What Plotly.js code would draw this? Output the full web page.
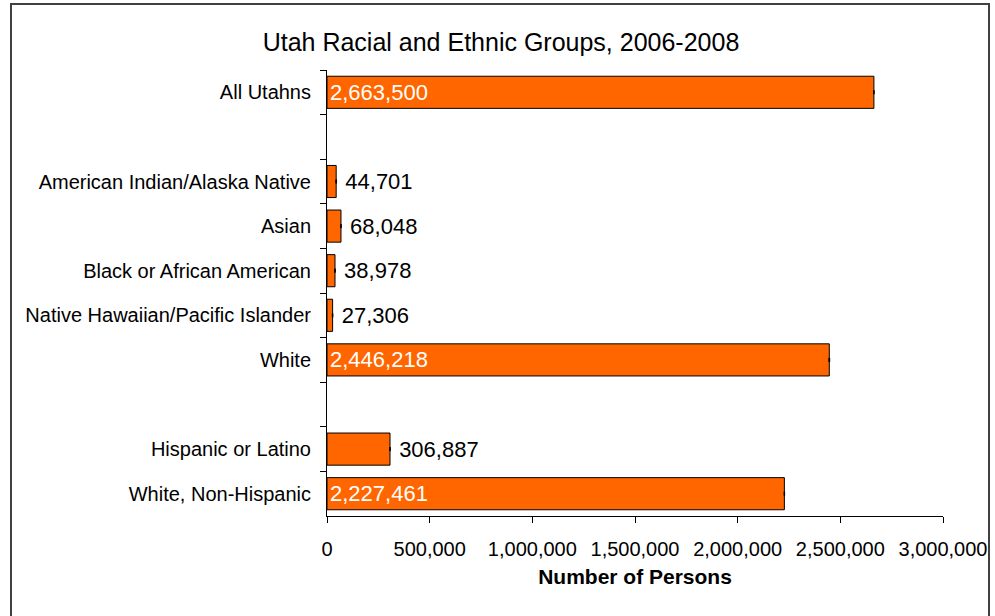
<!DOCTYPE html>
<html>
<head>
<meta charset="utf-8">
<script src="https://cdn.plot.ly/plotly-3.0.1.min.js"></script>
<style>
  html, body { margin: 0; padding: 0; background: #fff; }
  #wrap { position: relative; width: 995px; height: 616px; }
  #frame { position: absolute; left: 10px; top: 3px; width: 980px; height: 640px; border: 2px solid #404040; box-sizing: border-box; pointer-events: none; z-index: 5; }
  #chart { width: 995px; height: 616px; }
</style>
</head>
<body>
<div id="wrap">
  <div id="chart"></div>
  <div id="frame"></div>
</div>
<script>
const categories = ["All Utahns", " ", "American Indian/Alaska Native", "Asian", "Black or African American", "Native Hawaiian/Pacific Islander", "White", "  ", "Hispanic or Latino", "White, Non-Hispanic"];
const persons = [2663500, null, 44701, 68048, 38978, 27306, 2446218, null, 306887, 2227461];
const marginOfError = [1200, null, 1800, 1500, 1600, 1200, 2000, null, 1500, 1200];
const valueLabels = ["2,663,500", "", "44,701", "68,048", "38,978", "27,306", "2,446,218", "", "306,887", "2,227,461"];
const xTickValues = [0, 500000, 1000000, 1500000, 2000000, 2500000, 3000000];
const xTickLabels = ["0", "500,000", "1,000,000", "1,500,000", "2,000,000", "2,500,000", "3,000,000"];

const isInside = persons.map(v => v !== null && v > 1000000);
const positions = isInside.map(b => b ? "inside" : "outside");
const textColors = isInside.map(b => b ? "#ffffff" : "#000000");
const shownText = valueLabels.map((t, i) => (t && !isInside[i]) ? "\u00a0" + t : t);

const trace = {
  type: "bar",
  orientation: "h",
  y: categories,
  x: persons,
  text: shownText,
  textposition: positions,
  insidetextanchor: "start",
  textfont: { family: "Liberation Sans, Arial, sans-serif", size: 22, color: textColors },
  constraintext: "none",
  cliponaxis: false,
  marker: { color: "#FF6600", line: { color: "#000000", width: 1 } },
  error_x: { type: "data", array: marginOfError, visible: true, color: "#000000", thickness: 1, width: 2 },
  hoverinfo: "none"
};

const layout = {
  width: 995,
  height: 616,
  margin: { l: 327, r: 52, t: 70, b: 100 },
  paper_bgcolor: "#ffffff",
  plot_bgcolor: "#ffffff",
  showlegend: false,
  bargap: 0.28,
  font: { family: "Liberation Sans, Arial, sans-serif", color: "#000000" },
  title: {
    text: "Utah Racial and Ethnic Groups, 2006-2008",
    font: { size: 25, color: "#000000" },
    xref: "container", x: 0.5035,
    yref: "container", y: 1 - 42 / 616, yanchor: "middle"
  },
  xaxis: {
    range: [0, 3000000],
    tickvals: xTickValues,
    ticktext: xTickLabels,
    ticks: "outside",
    ticklen: 6,
    tickcolor: "#000000",
    showline: true,
    linecolor: "#000000",
    linewidth: 1,
    showgrid: false,
    zeroline: false,
    tickfont: { size: 20 },
    ticklabelstandoff: 9,
    title: { text: "<b>Number of Persons</b>", font: { size: 21 }, standoff: 10 }
  },
  yaxis: {
    type: "category",
    categoryorder: "array",
    categoryarray: categories,
    range: [9.5, -0.5],
    tickson: "boundaries",
    ticks: "outside",
    ticklen: 6,
    tickcolor: "#000000",
    showline: true,
    linecolor: "#000000",
    linewidth: 1,
    showgrid: false,
    zeroline: false,
    tickfont: { size: 20 },
    ticklabelstandoff: 11
  }
};

Plotly.newPlot("chart", [trace], layout, { displayModeBar: false, staticPlot: true });
</script>
</body>
</html>
